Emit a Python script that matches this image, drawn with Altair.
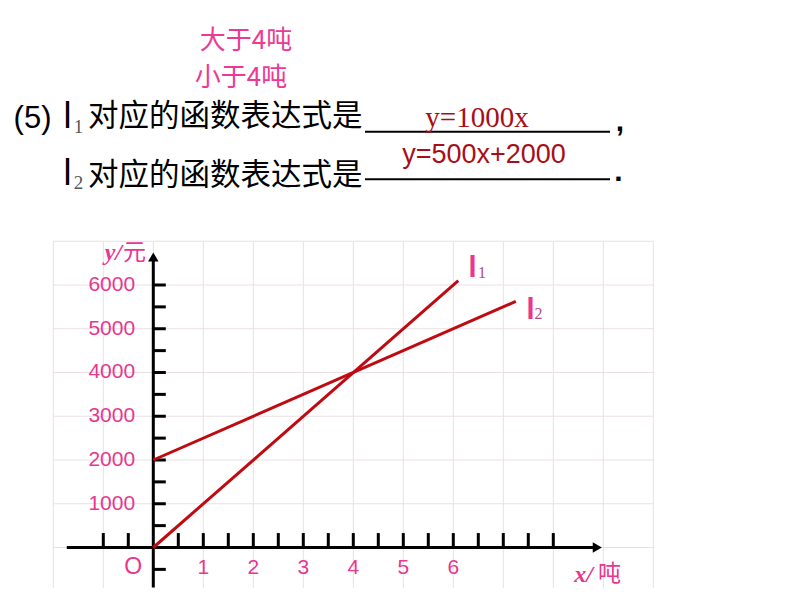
import altair as alt
import pandas as pd

# ---------------- data ----------------
X_DOMAIN = [-2.906, 12.654]
Y_DOMAIN = [-925.7, 12331.4]

# the two lines
l1_x = [0, 6.1]
l1_y = [0, 6100]
l2_x = [0, 7.25]
l2_y = [2000, 5625]

# background grid
grid_x = list(range(-2, 11))
grid_y = list(range(-1000, 8000, 1000))
grid_x_ext = [-2, 10]
grid_y_ext = [-1000, 7000]

# axes
x_axis_ext = [-1.73, 8.8]
y_axis_ext = [-917, 6600]
x_ticks = [-1, -0.5, 0.5, 1, 1.5, 2, 2.5, 3, 3.5, 4, 4.5, 5, 5.5, 6, 6.5, 7, 7.5, 8]
y_ticks = [-500, 500, 1000, 1500, 2000, 2500, 3000, 3500, 4000, 4500, 5000, 5500, 6000]
x_tick_len = 330
y_tick_len = 0.25
x_labels = [1, 2, 3, 4, 5, 6]
x_label_y = -469
y_labels = [1000, 2000, 3000, 4000, 5000, 6000]
y_label_x = -0.364
arrow_x = [8.88]
arrow_y = [6640]

# annotation texts
pink_text = ["大于4吨", "小于4吨"]
pink_x = [1.854, 1.754]
pink_y = [11570, 10730]

q_paren = ["(5)"]
q_paren_x = [-2.416]
q_paren_y = [9790]
q_l = ["l", "l"]
q_l_x = [-1.716, -1.716]
q_l_y = [9830, 8530]
q_sub = ["1", "2"]
q_sub_x = [-1.496, -1.496]
q_sub_y = [9600, 8320]
q_body = ["对应的函数表达式是", "对应的函数表达式是"]
q_body_x = [-1.306, -1.306]
q_body_y = [9829, 8500]
q_punct = [",", "."]
q_punct_x = [9.334, 9.30]
q_punct_y = [9517, 8377]
blank_x = [4.234]
blank_x2 = [9.134]
blank_y = [9504, 8416]

ans1 = ["y=1000x"]
ans1_x = [6.474]
ans1_y = [9817]
ans2 = ["y=500x+2000"]
ans2_x = [6.614]
ans2_y = [8971]

origin_text = ["O"]
origin_x = [-0.404]
origin_y = [-446]

axis_var = ["y/", "x/"]
axis_var_x = [-0.626, 8.794]
axis_var_y = [6731, -620]
axis_unit = ["元", "吨"]
axis_unit_x = [-0.606, 8.894]
axis_unit_y = [6731, -600]

line_name = ["l", "l"]
line_name_x = [6.384, 7.544]
line_name_y = [6389, 5429]
line_sub = ["1", "2"]
line_sub_x = [6.574, 7.704]
line_sub_y = [6274, 5337]

# ---------------- styles ----------------
PINK = "#E8378E"
RED = "#C00A12"
DARKRED = "#A80E18"
GRID = "#EADFE4"
CJK = "Noto Sans CJK SC"

xs = alt.Scale(domain=X_DOMAIN, nice=False, zero=False)
ys = alt.Scale(domain=Y_DOMAIN, nice=False, zero=False)


def X(f="x"):
    return alt.X(f"{f}:Q", scale=xs, axis=None)


def Y(f="y"):
    return alt.Y(f"{f}:Q", scale=ys, axis=None)


def text_layer(texts, xv, yv, **kw):
    df = pd.DataFrame({"x": xv, "y": yv, "t": texts})
    params = dict(baseline="middle", align="center")
    params.update(kw)
    return alt.Chart(df).mark_text(**params).encode(x=X(), y=Y(), text="t:N")


layers = []

# grid
gv = pd.DataFrame({"x": grid_x, "y": grid_y_ext[0], "y2": grid_y_ext[1]})
gh = pd.DataFrame({"y": grid_y, "x": grid_x_ext[0], "x2": grid_x_ext[1]})
layers.append(alt.Chart(gv).mark_rule(color=GRID, strokeWidth=1).encode(
    x=X(), y=Y(), y2="y2:Q"))
layers.append(alt.Chart(gh).mark_rule(color=GRID, strokeWidth=1).encode(
    y=Y(), x=X(), x2="x2:Q"))

# ticks
xt = pd.DataFrame({"x": x_ticks, "y": 0, "y2": x_tick_len})
yt = pd.DataFrame({"y": y_ticks, "x": 0, "x2": y_tick_len})
layers.append(alt.Chart(xt).mark_rule(color="black", strokeWidth=3).encode(
    x=X(), y=Y(), y2="y2:Q"))
layers.append(alt.Chart(yt).mark_rule(color="black", strokeWidth=3).encode(
    y=Y(), x=X(), x2="x2:Q"))

# axis lines
xa = pd.DataFrame({"x": [x_axis_ext[0]], "x2": [x_axis_ext[1]], "y": [0]})
ya = pd.DataFrame({"y": [y_axis_ext[0]], "y2": [y_axis_ext[1]], "x": [0]})
layers.append(alt.Chart(xa).mark_rule(color="black", strokeWidth=3).encode(
    x=X(), x2="x2:Q", y=Y()))
layers.append(alt.Chart(ya).mark_rule(color="black", strokeWidth=3).encode(
    y=Y(), y2="y2:Q", x=X()))
layers.append(alt.Chart(pd.DataFrame({"x": arrow_x, "y": [0]})).mark_point(
    shape="triangle-right", filled=True, color="black", size=110, opacity=1
).encode(x=X(), y=Y()))
layers.append(alt.Chart(pd.DataFrame({"x": [0], "y": arrow_y})).mark_point(
    shape="triangle-up", filled=True, color="black", size=110, opacity=1
).encode(x=X(), y=Y()))

# function lines
lines = pd.DataFrame({
    "x": l1_x + l2_x,
    "y": l1_y + l2_y,
    "s": ["l1"] * len(l1_x) + ["l2"] * len(l2_x),
})
layers.append(alt.Chart(lines).mark_line(color=RED, strokeWidth=3).encode(
    x=X(), y=Y(), detail="s:N"))

# axis labels
layers.append(text_layer([str(v) for v in x_labels], x_labels, [x_label_y] * len(x_labels),
                         font="Liberation Sans", fontSize=21, color=PINK))
layers.append(text_layer([str(v) for v in y_labels], [y_label_x] * len(y_labels), y_labels,
                         font="Liberation Sans", fontSize=21, color=PINK, align="right"))
layers.append(text_layer(origin_text, origin_x, origin_y,
                         font="Liberation Sans", fontSize=23, color=PINK))
layers.append(text_layer(axis_var, axis_var_x, axis_var_y,
                         font="Liberation Serif", fontSize=24, fontStyle="italic",
                         fontWeight="bold", color=PINK, align="right"))
layers.append(text_layer(axis_unit, axis_unit_x, axis_unit_y,
                         font=CJK, fontSize=23, color=PINK, align="left"))

# line names
layers.append(text_layer(line_name, line_name_x, line_name_y,
                         font="Liberation Sans", fontSize=29, fontWeight="bold", color=PINK))
layers.append(text_layer(line_sub, line_sub_x, line_sub_y,
                         font="Liberation Serif", fontSize=16, color="#B04A90"))

# top annotations
layers.append(text_layer(pink_text, pink_x, pink_y, font=CJK, fontSize=26, color="#EC3A94"))
layers.append(text_layer(q_paren, q_paren_x, q_paren_y, font="Liberation Sans", fontSize=31,
                         color="black"))
layers.append(text_layer(q_l, q_l_x, q_l_y, font="Liberation Sans", fontSize=36, color="black"))
layers.append(text_layer(q_sub, q_sub_x, q_sub_y, font="Liberation Serif", fontSize=19,
                         color="#555555"))
layers.append(text_layer(q_body, q_body_x, q_body_y, font=CJK, fontSize=30.5, color="black",
                         align="left"))
layers.append(text_layer(q_punct, q_punct_x, q_punct_y, font="Liberation Sans", fontSize=30,
                         fontWeight="bold", color="black", baseline="alphabetic"))
bl = pd.DataFrame({"y": blank_y, "x": blank_x * len(blank_y), "x2": blank_x2 * len(blank_y)})
layers.append(alt.Chart(bl).mark_rule(color="black", strokeWidth=2).encode(
    y=Y(), x=X(), x2="x2:Q"))
layers.append(text_layer(ans1, ans1_x, ans1_y, font="Liberation Serif", fontSize=29, color=DARKRED))
layers.append(text_layer(ans2, ans2_x, ans2_y, font="Liberation Sans", fontSize=27, color=DARKRED))

chart = alt.layer(*layers).properties(
    width=778, height=580, padding=0,
    autosize=alt.AutoSizeParams(type="none"),
    background="white",
).configure_view(stroke=None)

chart.save("out.html", embed_options={"renderer": "svg", "actions": False})
